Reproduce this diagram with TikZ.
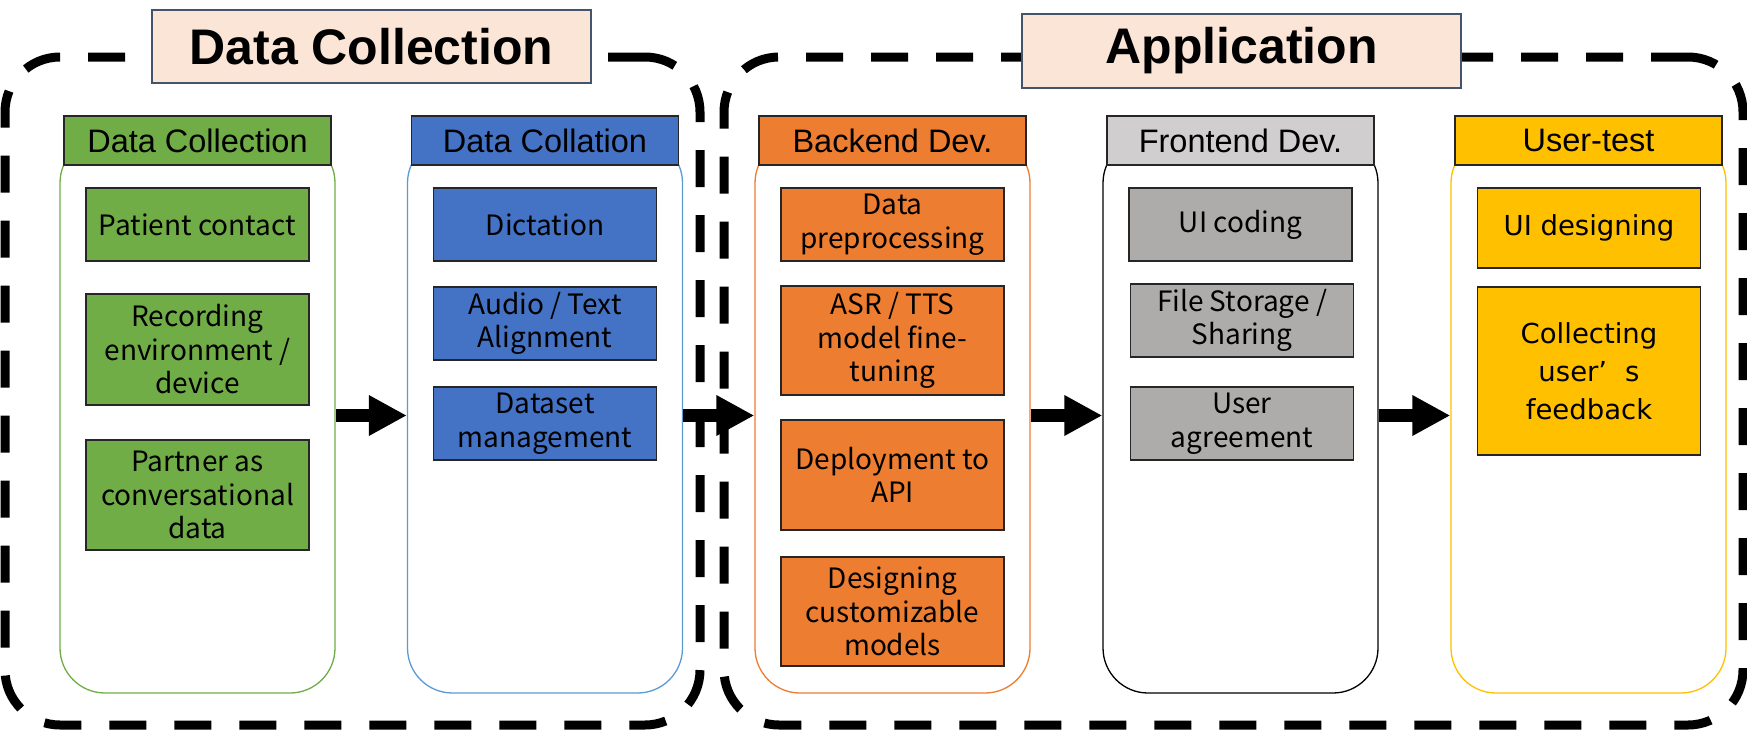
\documentclass[tikz,border=0pt]{standalone}
\usepackage{fontspec}
\setmainfont{Liberation Sans}
\newfontfamily\innerfont{Noto Sans CJK SC}
\newfontfamily\widefont{DejaVu Sans}
\usetikzlibrary{arrows.meta}
\definecolor{titlefill}{HTML}{FBE5D6}
\definecolor{titledraw}{HTML}{44546A}
\definecolor{cgreen}{HTML}{70AD47}
\definecolor{cblue}{HTML}{4472C4}
\definecolor{cbluel}{HTML}{5B9BD5}
\definecolor{corange}{HTML}{ED7D31}
\definecolor{cgreyh}{HTML}{D0CECE}
\definecolor{cgreyi}{HTML}{AEABAB}
\definecolor{cyellow}{HTML}{FFC000}
\definecolor{edgec}{HTML}{262626}
\begin{document}
\begin{tikzpicture}[x=1pt,y=-1pt,
  groupbox/.style={draw=black, line width=9pt, dash pattern=on 37pt off 28pt, rounded corners=55pt, rectangle, inner sep=0pt},
  titlebox/.style={draw=titledraw, fill=titlefill, line width=1.5pt, minimum width=439pt, minimum height=73pt, inner sep=0pt, font=\fontsize{50}{60}\selectfont\bfseries},
  container/.style={draw, fill=white, line width=1.3pt, rounded corners=45pt, minimum width=275pt, minimum height=555pt, inner sep=0pt},
  header/.style={draw=edgec, line width=1.3pt, minimum width=267pt, minimum height=49pt, inner sep=0pt, font=\fontsize{32.5}{39}\selectfont},
  ibox/.style={draw=edgec, line width=1.3pt, minimum width=223pt, inner sep=0pt, align=center, font=\innerfont\fontsize{28}{33.5}\selectfont},
  ybox/.style={ibox, fill=cyellow, font=\widefont\fontsize{27.5}{38}\selectfont},
  flow/.style={line width=13pt, -{Triangle[length=38pt,width=38pt]}}
]
\fill[white] (0,0) rectangle (1747,731);
\useasboundingbox (0,0) rectangle (1747,731);

% group frames
\node[groupbox, minimum width=695pt, minimum height=668pt] (g1) at (352.5,391) {};
\node[groupbox, minimum width=1019pt, minimum height=668pt] (g2) at (1233.5,391) {};
\node[titlebox] (t1) at (371.5,46.5) {Data Collection};
\node[titlebox, minimum height=74pt] (t2) at (1241.5,51) {Application};

% containers
\node[container, draw=cgreen] (c1) at (197.5,415.5) {};
\node[container, draw=cbluel] (c2) at (545,415.5) {};
\node[container, draw=corange] (c3) at (892.5,415.5) {};
\node[container, draw=black] (c4) at (1240.5,415.5) {};
\node[container, draw=cyellow] (c5) at (1588.5,415.5) {};

% headers
\node[header, fill=cgreen] (h1) at (197.5,140.5) {Data Collection};
\node[header, fill=cblue] (h2) at (545,140.5) {Data Collation};
\node[header, fill=corange] (h3) at (892.5,140.5) {Backend Dev.};
\node[header, fill=cgreyh] (h4) at (1240.5,140.5) {Frontend Dev.};
\node[header, fill=cyellow] (h5) at (1588.5,140.5) {User-test};

% column 1
\node[ibox, fill=cgreen, minimum height=73pt] (a1) at (197.5,224.5) {Patient contact};
\node[ibox, fill=cgreen, minimum height=111pt] (a2) at (197.5,349.5) {Recording\\environment /\\device};
\node[ibox, fill=cgreen, minimum height=110pt] (a3) at (197.5,495) {Partner as\\conversational\\data};

% column 2
\node[ibox, fill=cblue, minimum height=73pt] (b1) at (545,224.5) {Dictation};
\node[ibox, fill=cblue, minimum height=73pt] (b2) at (545,323.5) {Audio / Text\\Alignment};
\node[ibox, fill=cblue, minimum height=73pt] (b3) at (545,423.5) {Dataset\\management};

% column 3
\node[ibox, fill=corange, minimum height=73pt] (d1) at (892.5,224.5) {Data\\preprocessing};
\node[ibox, fill=corange, minimum height=109pt] (d2) at (892.5,340.5) {ASR / TTS\\model fine-\\tuning};
\node[ibox, fill=corange, minimum height=110pt] (d3) at (892.5,475) {Deployment to\\API};
\node[ibox, fill=corange, minimum height=109pt] (d4) at (892.5,611.5) {Designing\\customizable\\models};

% column 4
\node[ibox, fill=cgreyi, minimum height=73pt] (e1) at (1240.5,224.5) {UI coding};
\node[ibox, fill=cgreyi, minimum height=73pt] (e2) at (1242,320.5) {File Storage /\\Sharing};
\node[ibox, fill=cgreyi, minimum height=73pt] (e3) at (1242,423.5) {User\\agreement};

% column 5
\node[ybox, minimum height=80pt] (f1) at (1589,228) {UI designing};
\node[ybox, minimum height=168pt] (f2) at (1589,371) {Collecting\\user’\hspace{18pt}s\\feedback};

% arrows
\draw[flow] (c1.east) -- (c2.west);
\draw[flow] (c2.east) -- (c3.west);
\draw[flow] (c3.east) -- (c4.west);
\draw[flow] (c4.east) -- (c5.west);
\end{tikzpicture}
\end{document}
